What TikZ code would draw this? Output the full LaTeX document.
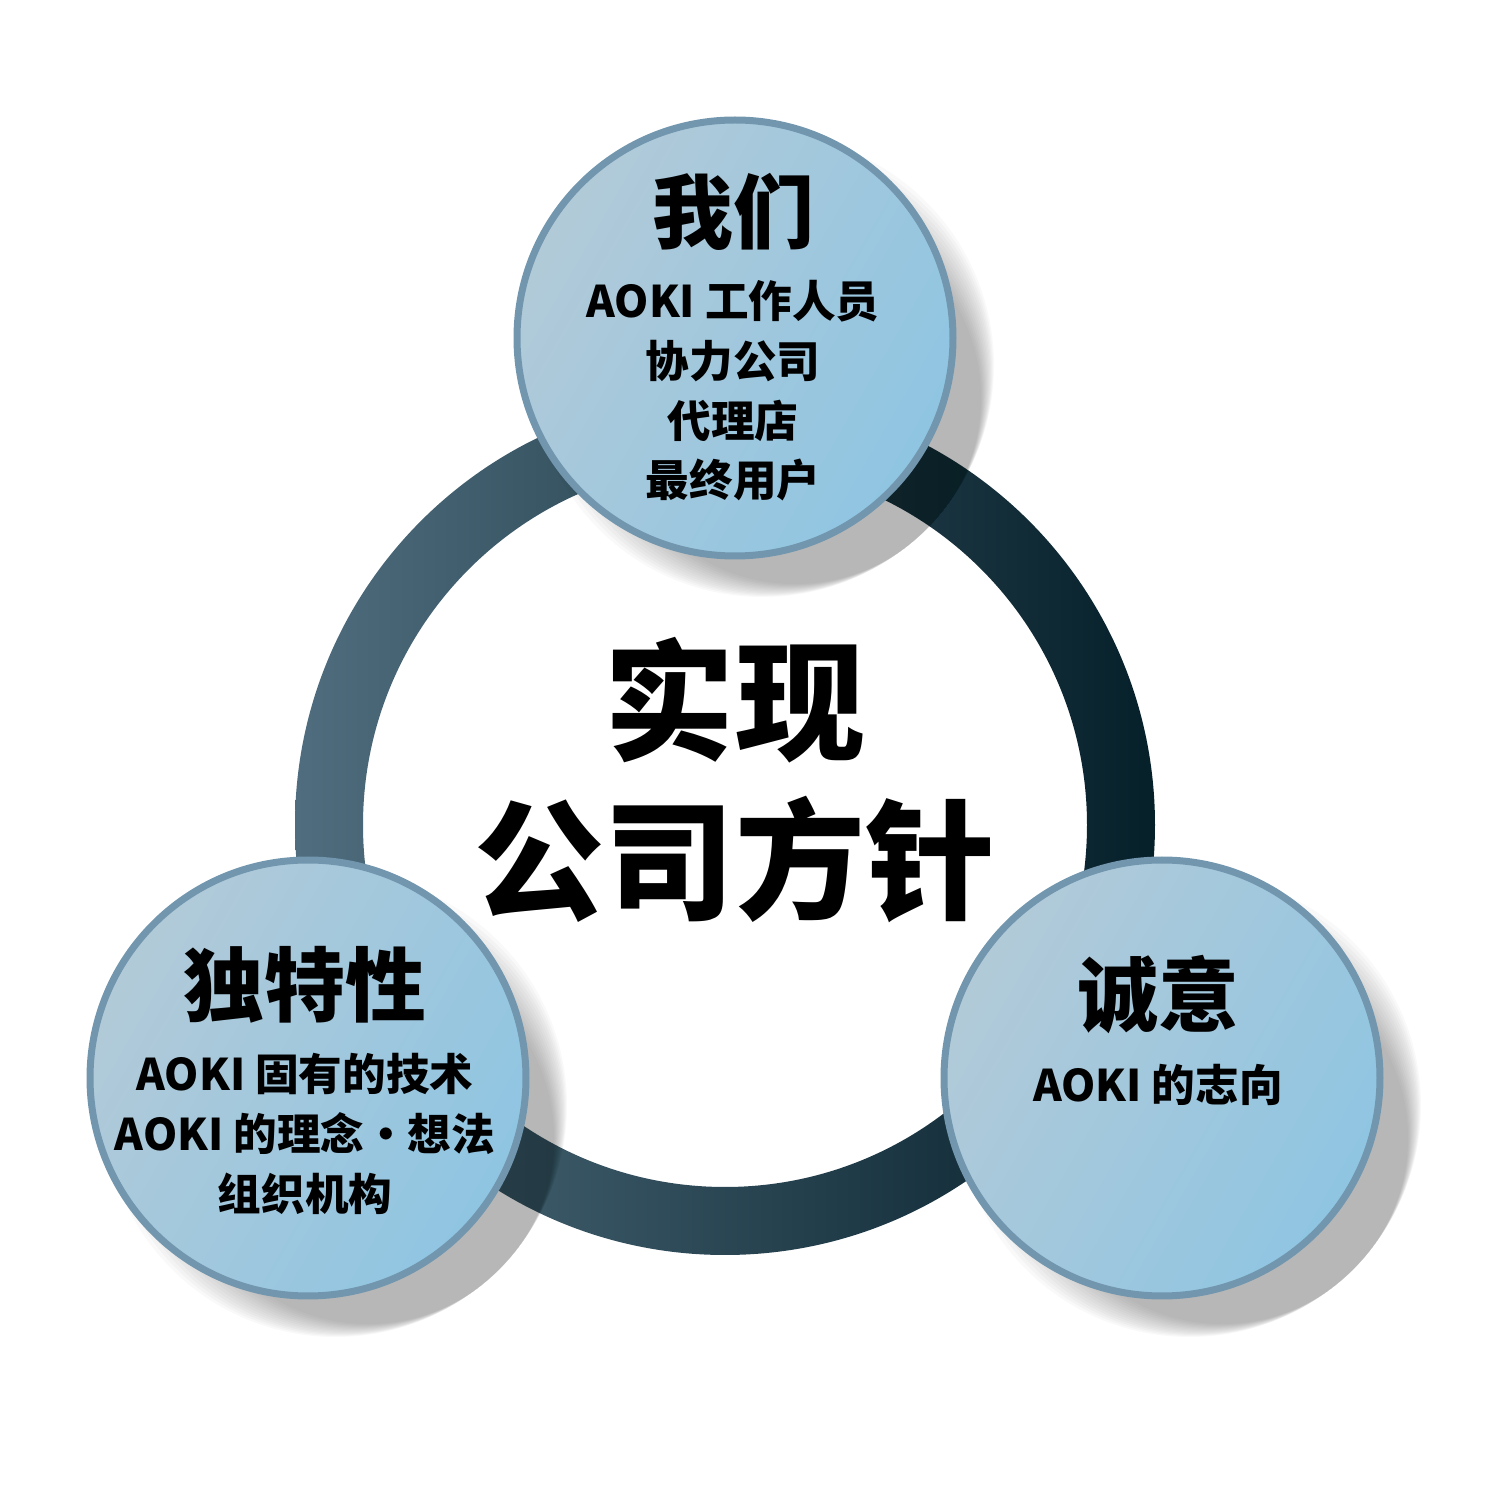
\documentclass[tikz,border=0pt]{standalone}
\usepackage{fontspec}
\setmainfont{Noto Sans CJK SC}[BoldFont={Noto Sans CJK SC Black}]
\usetikzlibrary{positioning,calc}
\definecolor{ringlight}{HTML}{4F6D7E}
\definecolor{ringdark}{HTML}{06202A}
\definecolor{ballleft}{HTML}{B2CAD8}
\definecolor{ballright}{HTML}{8FC5E2}
\definecolor{ballrim}{HTML}{7196AE}
\tikzset{
	ball/.style={circle,minimum size=4.4cm,inner sep=0pt},
	title/.style={font=\fontsize{23}{23}\selectfont\bfseries},
	sub/.style={font=\fontsize{12.4}{17}\selectfont\bfseries,align=center},
}
\newcommand{\drawball}[2]{%
	\foreach \k in {1,...,14}
		\fill[black,opacity=.022] ($(#1)+(.25+.025*\k,-.25-.025*\k)$) circle ({2.35-.035*\k});
	\shade[left color=ballleft,right color=ballright,shading angle=60] (#1) circle (2.2);
	\draw[ballrim,line width=.7mm] (#1) circle (2.18);
	\node[ball] (#2) at (#1) {};
}
\begin{document}
\begin{tikzpicture}
	\useasboundingbox (0,0) rectangle (15,15);
	% ring
	\shade[left color=ringlight,right color=ringdark,even odd rule]
		(7.25,6.75) circle (4.3) (7.25,6.75) circle (3.62);
	\node[font=\fontsize{37}{45}\selectfont\bfseries,align=center] (goal) at (7.35,7.2) {实现\\公司方针};
	% balls
	\drawball{7.35,11.62}{we}
	\drawball{3.08,4.22}{unique}
	\drawball{11.62,4.22}{sincere}
	\node[title] (wet) at (7.33,12.88) {我们};
	\node[sub,below=.05cm of wet] (wes) {AOKI 工作人员\\协力公司\\代理店\\最终用户};
	\node[title] (unit) at (3.05,5.15) {独特性};
	\node[sub,below=.05cm of unit] (unis) {AOKI 固有的技术\\AOKI 的理念・想法\\组织机构};
	\node[title] (sint) at (11.58,5.05) {诚意};
	\node[sub,below=.05cm of sint] (sins) {AOKI 的志向};
\end{tikzpicture}
\end{document}
